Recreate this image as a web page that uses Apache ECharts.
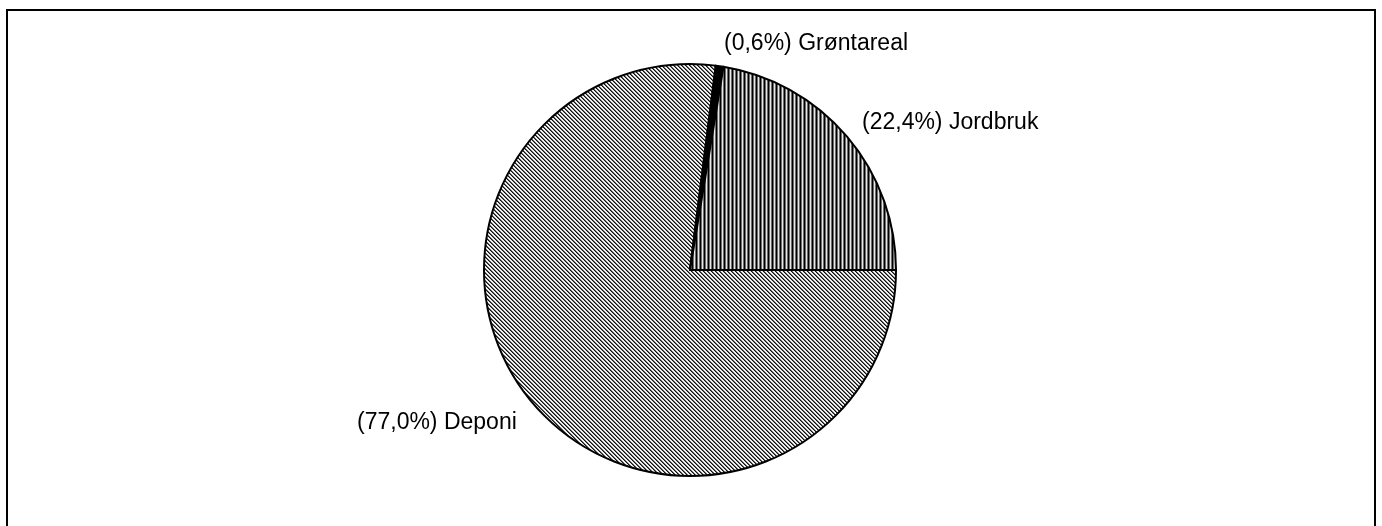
<!DOCTYPE html>
<html>
<head>
<meta charset="utf-8">
<script src="https://cdn.jsdelivr.net/npm/echarts@6/dist/echarts.min.js"></script>
<style>
html,body{margin:0;padding:0;background:#fff;}
#chart{width:1382px;height:526px;}
</style>
</head>
<body>
<div id="chart"></div>
<script>
// Data
var categories = ['Deponi', 'Grøntareal', 'Jordbruk'];
var values = [77.0, 0.6, 22.4];
var labelTexts = ['(77,0%) Deponi', '(0,6%) Grøntareal', '(22,4%) Jordbruk'];

function makeDiagonal() {
  var c = document.createElement('canvas');
  var n = 4;
  c.width = n; c.height = n;
  var ctx = c.getContext('2d');
  var cols = ['#111111', '#6a6a6a', '#ffffff', '#e0e0e0'];
  for (var y = 0; y < n; y++) {
    for (var x = 0; x < n; x++) {
      ctx.fillStyle = cols[((x - y) % n + n) % n];
      ctx.fillRect(x, y, 1, 1);
    }
  }
  return c;
}
function makeVertical() {
  var c = document.createElement('canvas');
  c.width = 4; c.height = 4;
  var ctx = c.getContext('2d');
  var cols = ['#000000', '#6e6e6e', '#e8e8e8', '#6e6e6e'];
  for (var x = 0; x < 4; x++) {
    ctx.fillStyle = cols[x];
    ctx.fillRect(x, 0, 1, 4);
  }
  return c;
}

var fills = [
  { image: makeDiagonal(), repeat: 'repeat' },
  '#000000',
  { image: makeVertical(), repeat: 'repeat' }
];
var labelPos = [[357, 423], [724, 44], [862, 123]];

var chart = echarts.init(document.getElementById('chart'), null, { renderer: 'canvas' });
chart.setOption({
  backgroundColor: '#ffffff',
  animation: false,
  graphic: [{
    type: 'rect',
    shape: { x: 7, y: 10, width: 1368, height: 540 },
    style: { fill: 'none', stroke: '#000', lineWidth: 2 },
    silent: true
  }],
  series: [{
    type: 'pie',
    center: [690, 270],
    radius: 206,
    startAngle: 0,
    clockwise: true,
    minAngle: 0,
    data: categories.map(function (c, i) {
      return { name: c, value: values[i], itemStyle: { color: fills[i] } };
    }),
    itemStyle: { borderColor: '#000', borderWidth: 2 },
    label: {
      show: true,
      position: 'outside',
      color: '#000',
      fontFamily: 'Liberation Sans, Arial, sans-serif',
      fontSize: 23,
      formatter: function (p) { return labelTexts[p.dataIndex]; }
    },
    labelLine: { show: false },
    labelLayout: function (p) {
      var pos = labelPos[p.dataIndex];
      return { x: pos[0], y: pos[1], align: 'left', verticalAlign: 'middle' };
    },
    emphasis: { disabled: true }
  }]
});
</script>
</body>
</html>
